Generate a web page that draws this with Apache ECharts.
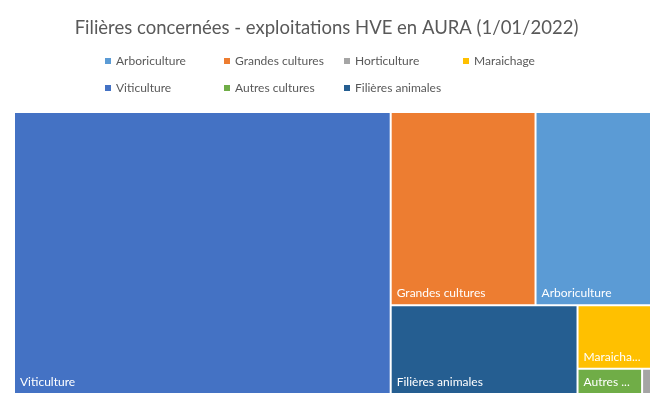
<!DOCTYPE html>
<html>
<head>
<meta charset="utf-8">
<script src="https://cdn.jsdelivr.net/npm/echarts@6/dist/echarts.min.js"></script>
<style>
  html, body { margin: 0; padding: 0; background: #ffffff; }
  #chart { width: 653px; height: 400px; }
</style>
</head>
<body>
<div id="chart"></div>
<script>
// filières (ordre de la légende) et nombre d'exploitations
var filieres = ['Arboriculture', 'Grandes cultures', 'Horticulture', 'Maraichage', 'Viticulture', 'Autres cultures', 'Filières animales'];
var exploitations = [397, 498, 4, 83, 1890, 29, 295];
var couleurs = ['#5B9BD5', '#ED7D31', '#A5A5A5', '#FFC000', '#4472C4', '#70AD47', '#255E91'];

// colonnes de la légende (comme dans Excel)
var colonnesLegende = [
  ['Arboriculture', 'Viticulture'],
  ['Grandes cultures', 'Autres cultures'],
  ['Horticulture', 'Filières animales'],
  ['Maraichage']
];
var gaucheLegende = [105, 224, 344, 463];

var police = 'Lato, "Open Sans", sans-serif';

var chart = echarts.init(document.getElementById('chart'));

var treeData = filieres.map(function (nom, i) {
  return { name: nom, value: exploitations[i], itemStyle: { color: couleurs[i] } };
});

var legends = colonnesLegende.map(function (col, i) {
  return {
    data: col,
    orient: 'vertical',
    left: gaucheLegende[i],
    top: 55,
    padding: 0,
    itemWidth: 6,
    itemHeight: 6,
    itemGap: 15,
    icon: 'rect',
    selectedMode: false,
    textStyle: { color: '#595959', fontSize: 12, fontFamily: police }
  };
});

var option = {
  animation: false,
  backgroundColor: '#ffffff',
  title: {
    text: 'Filières concernées - exploitations HVE en AURA (1/01/2022)',
    left: 'center',
    top: 14,
    textStyle: { color: '#595959', fontSize: 18.5, fontWeight: 'normal', fontFamily: police }
  },
  legend: legends,
  series: [
    {
      // série fantôme, seulement pour les couleurs de la légende
      type: 'pie',
      name: 'legende',
      radius: [0, 0],
      center: [-100, -100],
      silent: true,
      showEmptyCircle: false,
      label: { show: false },
      labelLine: { show: false },
      data: filieres.map(function (nom, i) {
        return { name: nom, value: exploitations[i], itemStyle: { color: couleurs[i] } };
      })
    },
    {
      type: 'treemap',
      name: 'HVE',
      left: 15,
      top: 113,
      right: 3,
      bottom: 7,
      roam: false,
      nodeClick: false,
      breadcrumb: { show: false },
      itemStyle: { borderWidth: 0, gapWidth: 2, borderColor: '#ffffff' },
      levels: [
        { itemStyle: { borderWidth: 0, gapWidth: 2, borderColor: '#ffffff' } }
      ],
      label: {
        show: true,
        position: 'insideBottomLeft',
        color: '#ffffff',
        fontSize: 12,
        fontFamily: police,
        overflow: 'truncate',
        ellipsis: '...'
      },
      upperLabel: { show: false },
      data: treeData
    }
  ]
};

chart.setOption(option);
</script>
</body>
</html>
